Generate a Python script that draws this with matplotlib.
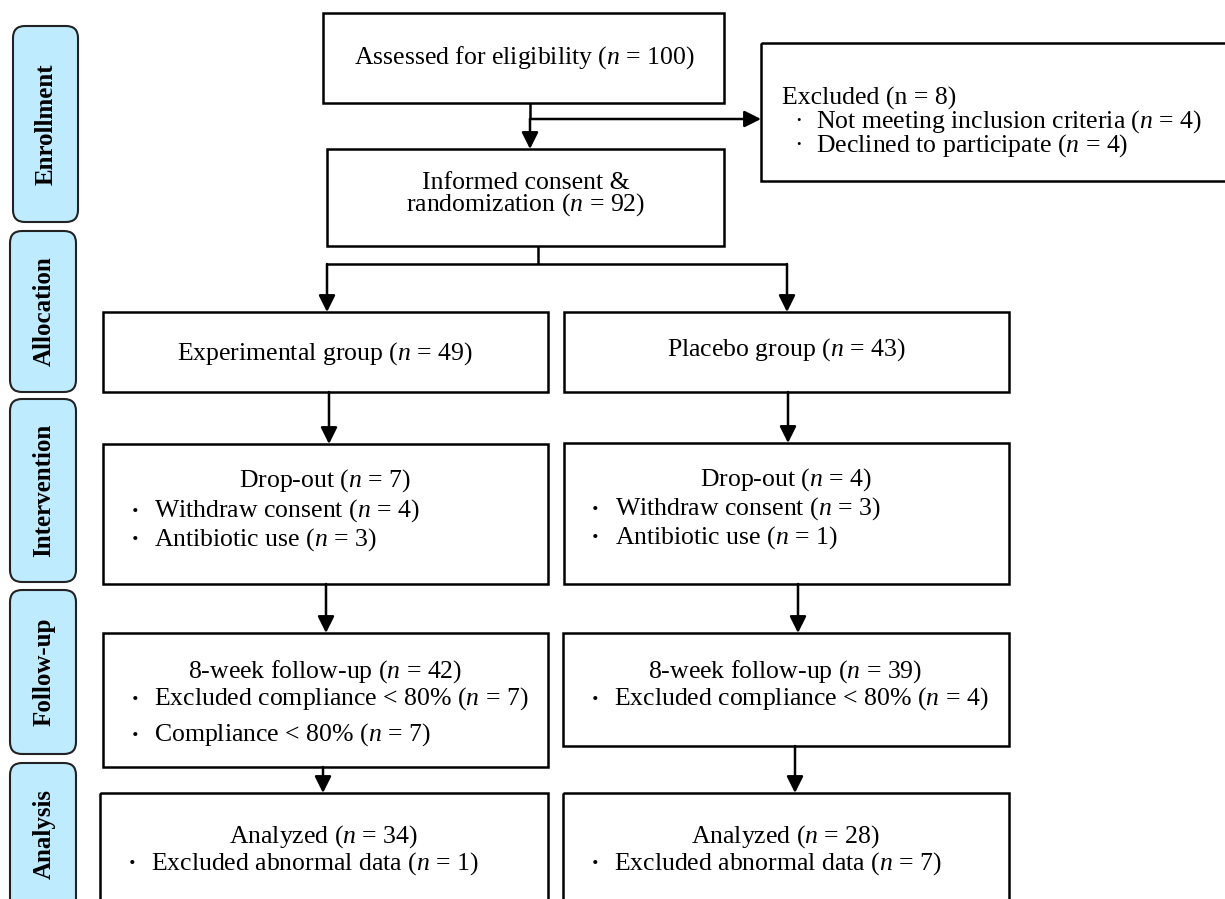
import matplotlib.pyplot as plt
from matplotlib.patches import Rectangle, FancyBboxPatch

plt.rcParams['font.family'] = ['Liberation Serif', 'DejaVu Serif']
plt.rcParams['mathtext.fontset'] = 'custom'
plt.rcParams['mathtext.rm'] = 'Liberation Serif'
plt.rcParams['mathtext.it'] = 'Liberation Serif:italic'

# Datos del diagrama
stages = ['Enrollment', 'Allocation', 'Intervention', 'Follow-up', 'Analysis']
assessed_n = 100
excluded_n = 8
not_meeting_n = 4
declined_n = 4
randomized_n = 92
groups = ['Experimental group', 'Placebo group']
group_n = [49, 43]
dropout_n = [7, 4]
withdraw_n = [4, 3]
antibiotic_n = [3, 1]
followup_n = [42, 39]
excl_compliance_n = [7, 4]
compliance_n = [7, None]
analyzed_n = [34, 28]
abnormal_n = [1, 7]

FS = 18.5
LW = 1.8

fig = plt.figure(figsize=(12.25, 8.99), dpi=100)
ax = fig.add_axes([0, 0, 1, 1])
ax.set_xlim(0, 1225)
ax.set_ylim(899, 0)
ax.axis('off')


def nn(v):
    return '($n$ = %d)' % v


def box(x0, y0, x1, y1):
    ax.add_patch(Rectangle((x0, y0), x1 - x0, y1 - y0, fill=False, ec='k', lw=LW))


def arrow(x0, y0, x1, y1):
    ax.annotate('', xy=(x1, y1), xytext=(x0, y0),
                arrowprops=dict(arrowstyle='-|>,head_width=0.5,head_length=1.0',
                                color='k', lw=LW, shrinkA=0, shrinkB=0))


def line(xs, ys):
    ax.plot(xs, ys, color='k', lw=LW, solid_capstyle='butt')


def txt(x, y, s, ha='center'):
    ax.text(x, y, s, fontsize=FS, ha=ha, va='center')


def bullet(xb, xt, y, s):
    ax.text(xb, y, '·', fontsize=FS, ha='center', va='center', fontweight='bold')
    ax.text(xt, y, s, fontsize=FS, ha='left', va='center')


# Etiquetas de etapas (izquierda)
stage_boxes = [(13, 26, 78, 222), (10, 231, 76, 392), (10, 399, 76, 582),
               (10, 590, 76, 754), (10, 763, 76, 930)]
for name, (x0, y0, x1, y1) in zip(stages, stage_boxes):
    ax.add_patch(FancyBboxPatch((x0, y0), x1 - x0, y1 - y0,
                                boxstyle='round,pad=0,rounding_size=12',
                                fc='#BEEBFE', ec='#222222', lw=1.5))
    yc = (y0 + y1) / 2 if y1 < 899 else 834
    ax.text((x0 + x1) / 2 + 1, yc, name, rotation=90, fontsize=18, fontweight='bold',
            ha='center', va='center')

# Enrollment
box(323, 13, 724, 103)
txt(524, 58, 'Assessed for eligibility ' + nn(assessed_n))
box(761, 43, 1240, 181)
excl_lines = ['Excluded (n = %d)' % excluded_n,
              '  ·  Not meeting inclusion criteria ' + nn(not_meeting_n),
              '  ·  Declined to participate ' + nn(declined_n)]
ax.text(782, 123, '\n'.join(excl_lines), fontsize=FS, ha='left', va='center',
        linespacing=0.9)
line([530, 530], [103, 119])
arrow(530, 119, 530, 149)
arrow(530, 119, 761, 119)

box(327, 149, 724, 246)
ax.text(526, 195, 'Informed consent &\nrandomization ' + nn(randomized_n),
        fontsize=FS, ha='center', va='center', linespacing=0.9)
line([538, 538], [246, 264])
line([327, 787], [264, 264])
arrow(327, 264, 327, 312)
arrow(787, 264, 787, 312)

# Allocation
box(103, 312, 548, 392)
txt(325, 354, groups[0] + ' ' + nn(group_n[0]))
box(564, 312, 1009, 392)
txt(786, 350, groups[1] + ' ' + nn(group_n[1]))
arrow(329, 392, 329, 444)
arrow(788, 392, 788, 443)

# Intervention
box(103, 444, 548, 584)
txt(325, 481, 'Drop-out ' + nn(dropout_n[0]))
bullet(135, 154, 511, 'Withdraw consent ' + nn(withdraw_n[0]))
bullet(135, 154, 540, 'Antibiotic use ' + nn(antibiotic_n[0]))
box(564, 443, 1009, 584)
txt(786, 480, 'Drop-out ' + nn(dropout_n[1]))
bullet(595, 615, 509, 'Withdraw consent ' + nn(withdraw_n[1]))
bullet(595, 615, 538, 'Antibiotic use ' + nn(antibiotic_n[1]))
arrow(326, 584, 326, 633)
arrow(798, 584, 798, 633)

# Follow-up
box(103, 633, 548, 767)
txt(325, 672, '8-week follow-up ' + nn(followup_n[0]))
bullet(135, 154, 699, 'Excluded compliance < 80% ' + nn(excl_compliance_n[0]))
bullet(135, 154, 735, 'Compliance < 80% ' + nn(compliance_n[0]))
box(563, 633, 1009, 746)
txt(785, 672, '8-week follow-up ' + nn(followup_n[1]))
bullet(595, 614, 699, 'Excluded compliance < 80% ' + nn(excl_compliance_n[1]))
arrow(323, 767, 323, 793)
arrow(795, 746, 795, 793)

# Analysis
box(100, 793, 548, 930)
txt(324, 837, 'Analyzed ' + nn(analyzed_n[0]))
bullet(132, 151, 864, 'Excluded abnormal data ' + nn(abnormal_n[0]))
box(563, 793, 1009, 930)
txt(786, 837, 'Analyzed ' + nn(analyzed_n[1]))
bullet(595, 614, 864, 'Excluded abnormal data ' + nn(abnormal_n[1]))

fig.savefig('out.png', dpi=100)
